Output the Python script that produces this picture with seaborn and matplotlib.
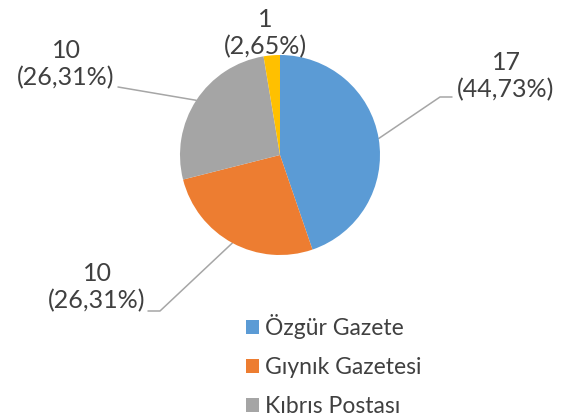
import numpy as np
import seaborn as sns
import matplotlib.pyplot as plt

# data
papers = ["Özgür Gazete", "Gıynık Gazetesi", "Kıbrıs Postası", ""]
counts = [17, 10, 10, 1]
percents = ["44,73%", "26,31%", "26,31%", "2,65%"]
colors = ["#5B9BD5", "#ED7D31", "#A5A5A5", "#FFC000"]

sns.set_theme(style="white")
plt.rcParams["font.family"] = ["Lato", "DejaVu Sans"]

fig = plt.figure(figsize=(5.62, 4.19), dpi=100)
ax = fig.add_axes([0, 0, 1, 1])

center = (280, 155)
radius = 100
# y axis is inverted below, so counterclock=True gives a clockwise pie from the top
wedges, _ = ax.pie(counts, colors=colors, startangle=-90, counterclock=True,
                   center=center, radius=radius, frame=True,
                   wedgeprops=dict(linewidth=0))
ax.set_xlim(0, 562)
ax.set_ylim(419, 0)  # pixel-like coords, y down
ax.axis("off")

# label placement: text centre, leader points (None = no leader)
label_pos = [(506, 76), (97, 287), (66, 64), (265, 33)]
elbows = [[(440, 97), (452, 97)], [(160, 311), (148, 311)], [(118, 87)], None]

text_color = "#404040"
line_color = "#A6A6A6"
for w, n, p, pos, elb in zip(wedges, counts, percents, label_pos, elbows):
    ax.text(pos[0], pos[1], f"{n}\n({p})", ha="center", va="center",
            fontsize=18, color=text_color, linespacing=1.2)
    if elb is None:
        continue
    mid = np.deg2rad((w.theta1 + w.theta2) / 2)
    ax_x = center[0] + radius * np.cos(mid)
    ax_y = center[1] + radius * np.sin(mid)
    xs = [ax_x] + [e[0] for e in elb]
    ys = [ax_y] + [e[1] for e in elb]
    ax.plot(xs, ys, color=line_color, lw=1.1, zorder=0)

leg = ax.legend(wedges[:3], papers[:3], loc="upper left",
                bbox_to_anchor=(246, 314), bbox_transform=ax.transData,
                frameon=False, fontsize=16.5, handlelength=0.55, handleheight=0.55,
                handletextpad=0.3, labelspacing=0.78, borderpad=0,
                borderaxespad=0)
for t in leg.get_texts():
    t.set_color(text_color)

fig.savefig("out.png", dpi=100)
